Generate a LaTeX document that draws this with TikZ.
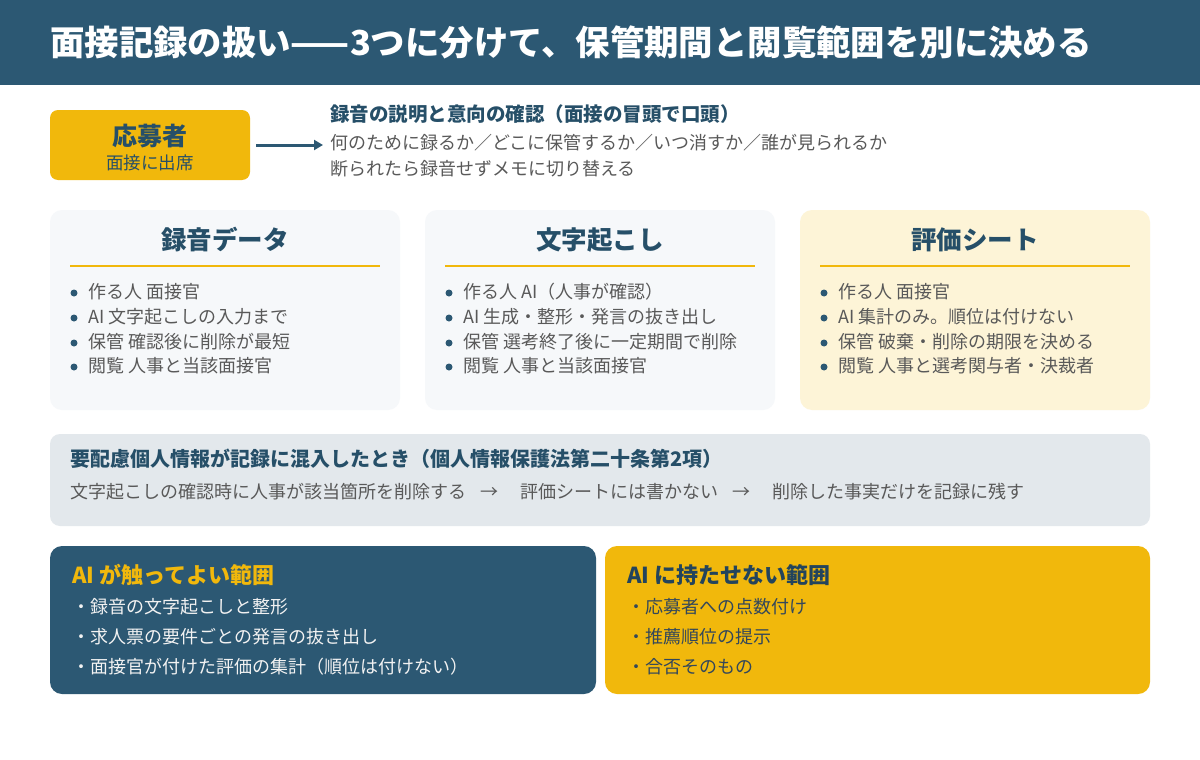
\documentclass[tikz,border=0pt]{standalone}
\usepackage{fontspec}
\setmainfont{Noto Sans CJK JP}
\usetikzlibrary{arrows.meta}
\definecolor{hdr}{HTML}{2C5873}
\definecolor{dblue}{HTML}{264F68}
\definecolor{ylw}{HTML}{F1B80C}
\definecolor{cardbg}{HTML}{F6F8FA}
\definecolor{cardy}{HTML}{FDF4D7}
\definecolor{graybox}{HTML}{E3E8EC}
\definecolor{gtxt}{HTML}{595959}
\definecolor{wtxt}{HTML}{F2F2F2}
\definecolor{rtxt}{HTML}{33475B}
\definecolor{rttl}{HTML}{23445C}
\newcommand{\fs}[1]{\fontsize{#1pt}{#1pt}\selectfont}
\tikzset{
  txt/.style={inner sep=0pt, anchor=west},
  ctxt/.style={inner sep=0pt, anchor=center},
  bul/.style={txt, text=gtxt, font=\fs{18}},
  dotb/.style={circle, fill=hdr, inner sep=0pt, minimum size=7pt},
  cardtitle/.style={ctxt, text=dblue, font=\fs{25.5}\bfseries},
}
\begin{document}
\begin{tikzpicture}[x=1pt,y=-1pt]
\useasboundingbox (0,0) rectangle (1200,760);
\fill[white] (0,0) rectangle (1200,760);
% header
\fill[hdr] (0,0) rectangle (1200,85);
\node[txt, text=white, font=\fs{34.4}\bfseries] (title) at (50,42) {面接記録の扱い——3つに分けて、保管期間と閲覧範囲を別に決める};
% applicant
\fill[ylw, rounded corners=8pt] (50,110) rectangle (250,180);
\node[ctxt, text=dblue, font=\fs{25}\bfseries] (app) at (150,136) {応募者};
\node[ctxt, text=dblue, font=\fs{17.5}] (appsub) at (150,163) {面接に出席};
\coordinate (arrS) at (256,145);
\coordinate (arrE) at (323,145);
\draw[hdr, line width=3pt, -{Triangle[length=9pt,width=10pt]}] (arrS) -- (arrE);
\node[txt, text=dblue, font=\fs{19.5}\bfseries] (rec) at (330,114) {録音の説明と意向の確認（面接の冒頭で口頭）};
\node[txt, text=gtxt, font=\fs{18}] (rec1) at (330,143) {何のために録るか／どこに保管するか／いつ消すか／誰が見られるか};
\node[txt, text=gtxt, font=\fs{18}] (rec2) at (330,169) {断られたら録音せずメモに切り替える};
% cards
\fill[cardbg, rounded corners=12pt] (50,210) rectangle (400,410);
\fill[cardbg, rounded corners=12pt] (425,210) rectangle (775,410);
\fill[cardy, rounded corners=12pt] (800,210) rectangle (1150,410);
\node[cardtitle] (t1) at (225,240) {録音データ};
\node[cardtitle] (t2) at (600,240) {文字起こし};
\node[cardtitle] (t3) at (975,240) {評価シート};
\draw[ylw, line width=2pt] (70,266) -- (380,266);
\draw[ylw, line width=2pt] (445,266) -- (755,266);
\draw[ylw, line width=2pt] (820,266) -- (1130,266);
% card 1
\foreach \yy in {293,318,343,367} {\node[dotb] at (74,\yy) {};}
\node[bul] (a1) at (88,292) {作る人 面接官};
\node[bul] (a2) at (88,317) {AI 文字起こしの入力まで};
\node[bul] (a3) at (88,342) {保管 確認後に削除が最短};
\node[bul] (a4) at (88,366) {閲覧 人事と当該面接官};
% card 2
\foreach \yy in {293,318,343,367} {\node[dotb] at (449,\yy) {};}
\node[bul] (b1) at (463,292) {作る人 AI（人事が確認）};
\node[bul] (b2) at (463,317) {AI 生成・整形・発言の抜き出し};
\node[bul] (b3) at (463,342) {保管 選考終了後に一定期間で削除};
\node[bul] (b4) at (463,366) {閲覧 人事と当該面接官};
% card 3
\foreach \yy in {293,318,343,367} {\node[dotb] at (824,\yy) {};}
\node[bul] (c1) at (838,292) {作る人 面接官};
\node[bul] (c2) at (838,317) {AI 集計のみ。順位は付けない};
\node[bul] (c3) at (838,342) {保管 破棄・削除の期限を決める};
\node[bul] (c4) at (838,366) {閲覧 人事と選考関与者・決裁者};
% gray box
\fill[graybox, rounded corners=10pt] (50,434) rectangle (1150,526);
\node[txt, text=dblue, font=\fs{20}\bfseries] (sens) at (70,459) {要配慮個人情報が記録に混入したとき（個人情報保護法第二十条第2項）};
\node[txt, text=gtxt, font=\fs{18}] (sens1) at (70,492) {文字起こしの確認時に人事が該当箇所を削除する\hspace{14pt}→\hspace{22pt}評価シートには書かない\hspace{14pt}→\hspace{22pt}削除した事実だけを記録に残す};
% bottom boxes
\fill[hdr, rounded corners=12pt] (50,546) rectangle (596,694);
\fill[ylw, rounded corners=12pt] (605,546) rectangle (1150,694);
\node[txt, text=ylw, font=\fs{22}\bfseries] (ok) at (72,575) {AI が触ってよい範囲};
\node[txt, text=wtxt, font=\fs{18}] (ok1) at (72,607) {・録音の文字起こしと整形};
\node[txt, text=wtxt, font=\fs{18}] (ok2) at (72,637) {・求人票の要件ごとの発言の抜き出し};
\node[txt, text=wtxt, font=\fs{18}] (ok3) at (72,667) {・面接官が付けた評価の集計（順位は付けない）};
\node[txt, text=rttl, font=\fs{22}\bfseries] (ng) at (627,575) {AI に持たせない範囲};
\node[txt, text=rtxt, font=\fs{18}] (ng1) at (627,607) {・応募者への点数付け};
\node[txt, text=rtxt, font=\fs{18}] (ng2) at (627,637) {・推薦順位の提示};
\node[txt, text=rtxt, font=\fs{18}] (ng3) at (627,667) {・合否そのもの};
\end{tikzpicture}
\end{document}
